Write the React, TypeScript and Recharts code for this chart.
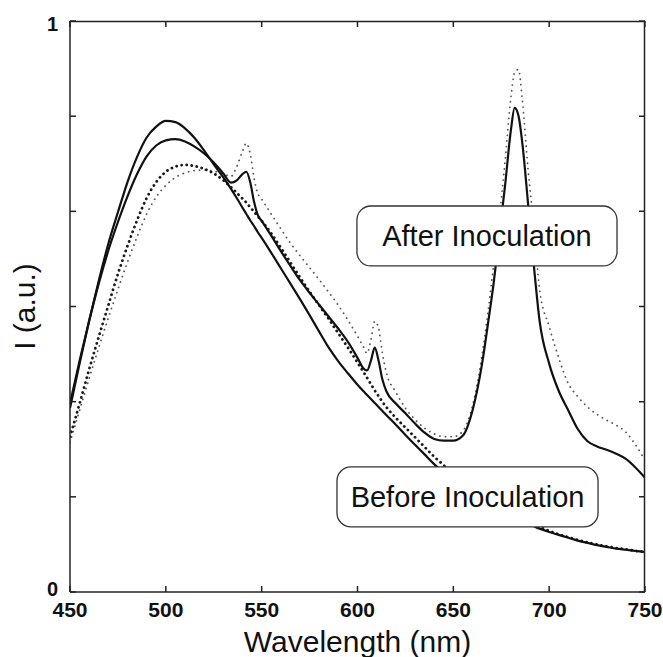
import React from "react";
import {
  LineChart,
  Line,
  XAxis,
  YAxis,
  ReferenceArea,
} from "recharts";

// wavelength grid (nm), finer around the sharp features
const wavelengths = [
  450, 455, 460, 465, 470, 475, 480, 485, 490, 495, 500, 505, 510, 515, 520, 525, 530,
  534, 537, 540, 542, 544, 546, 548,
  550, 555, 560, 565, 570, 575, 580, 585, 590, 595, 600,
  603, 605, 607, 609, 611, 613, 615,
  620, 625, 630, 635, 640, 645, 650, 655, 660, 665,
  668, 671, 674, 677, 680, 682, 684, 686, 689, 692, 695,
  700, 705, 710, 715, 720, 725, 730, 735, 740, 745, 750,
];

const beforeSolid = [
  0.322, 0.4, 0.475, 0.545, 0.61, 0.665, 0.718, 0.762, 0.796, 0.815, 0.825, 0.823, 0.812, 0.795, 0.773, 0.749, 0.726,
  0.706, 0.69, 0.673, 0.662, 0.651, 0.641, 0.63,
  0.62, 0.594, 0.567, 0.54, 0.513, 0.485, 0.456, 0.428, 0.404, 0.383, 0.363,
  0.352, 0.345, 0.338, 0.331, 0.324, 0.317, 0.31,
  0.293, 0.275, 0.258, 0.241, 0.224, 0.209, 0.195, 0.182, 0.17, 0.159,
  0.153, 0.147, 0.142, 0.137, 0.132, 0.129, 0.126, 0.123, 0.119, 0.115, 0.111,
  0.105, 0.1, 0.095, 0.09, 0.086, 0.082, 0.079, 0.076, 0.074, 0.072, 0.07,
];

const beforeDotted = [
  0.272, 0.33, 0.39, 0.447, 0.502, 0.557, 0.606, 0.651, 0.69, 0.718, 0.736, 0.745, 0.748, 0.746, 0.741, 0.733, 0.721,
  0.709, 0.699, 0.689, 0.682, 0.674, 0.666, 0.658,
  0.65, 0.628, 0.603, 0.577, 0.551, 0.526, 0.502, 0.478, 0.453, 0.428, 0.402,
  0.386, 0.375, 0.364, 0.353, 0.343, 0.333, 0.324,
  0.305, 0.288, 0.271, 0.254, 0.237, 0.222, 0.207, 0.194, 0.181, 0.169,
  0.162, 0.156, 0.15, 0.144, 0.139, 0.135, 0.132, 0.129, 0.124, 0.119, 0.114,
  0.107, 0.101, 0.096, 0.091, 0.087, 0.083, 0.08, 0.077, 0.075, 0.072, 0.07,
];

const afterSolid = [
  0.33, 0.405, 0.475, 0.54, 0.598, 0.648, 0.693, 0.732, 0.763, 0.782, 0.791, 0.793, 0.789, 0.78, 0.768, 0.752, 0.733,
  0.717, 0.721, 0.732, 0.736, 0.718, 0.684, 0.66,
  0.65, 0.624, 0.597, 0.571, 0.546, 0.524, 0.503, 0.482, 0.461, 0.438, 0.41,
  0.392, 0.388, 0.405, 0.428, 0.405, 0.372, 0.352,
  0.33, 0.313, 0.295, 0.279, 0.268, 0.265, 0.265, 0.274, 0.318, 0.4,
  0.468, 0.54, 0.625, 0.712, 0.808, 0.848, 0.834, 0.786, 0.68, 0.572, 0.475,
  0.4, 0.352, 0.318, 0.285, 0.264, 0.255, 0.249, 0.242, 0.233, 0.218, 0.2,
];

const afterDotted = [
  0.262, 0.318, 0.374, 0.428, 0.48, 0.53, 0.578, 0.622, 0.662, 0.692, 0.712, 0.726, 0.734, 0.738, 0.739, 0.737, 0.732,
  0.728, 0.745, 0.772, 0.786, 0.768, 0.725, 0.698,
  0.688, 0.662, 0.636, 0.611, 0.589, 0.568, 0.547, 0.525, 0.502, 0.476, 0.448,
  0.43, 0.418, 0.442, 0.474, 0.462, 0.418, 0.385,
  0.35, 0.322, 0.302, 0.287, 0.277, 0.272, 0.272, 0.282, 0.326, 0.415,
  0.488, 0.572, 0.655, 0.755, 0.865, 0.91, 0.915, 0.862, 0.74, 0.64, 0.53,
  0.465, 0.41, 0.365, 0.342, 0.324, 0.311, 0.301, 0.292, 0.28, 0.258, 0.231,
];

const xDomain = [450, 750];
const yDomain = [0, 1];
const xTicks = [450, 500, 550, 600, 650, 700, 750];
const yTicks = [0, 1 / 6, 2 / 6, 3 / 6, 4 / 6, 5 / 6, 1];
const yTickLabels: Record<number, string> = { 0: "0", 1: "1" };

const data = wavelengths.map((w, i) => ({
  w,
  beforeSolid: beforeSolid[i],
  beforeDotted: beforeDotted[i],
  afterSolid: afterSolid[i],
  afterDotted: afterDotted[i],
}));

const W = 663;
const H = 657;
const MARGIN = { top: 21, right: 18, bottom: 0, left: 0 };
const Y_AXIS_W = 70;
const X_AXIS_H = 65;

const FONT = "'Liberation Sans', Arial, Helvetica, sans-serif";
const AXIS = "#222";
const TICK_LEN = 6;

const YTick = (props: any) => {
  const { x, y, payload } = props;
  const txt = yTickLabels[payload.value];
  if (!txt) return <g />;
  // matlab puts the end labels slightly inside the axis range
  const shift = payload.value === 0 ? -3 : 3;
  return (
    <text
      x={x}
      y={y + shift}
      dy="0.355em"
      textAnchor="end"
      fontFamily={FONT}
      fontSize={20}
      fontWeight="bold"
      fill="#111"
    >
      {txt}
    </text>
  );
};

// top + right edges of the matlab box with inward ticks (same plot rect as the chart)
const Frame = () => {
  const x = MARGIN.left + Y_AXIS_W;
  const y = MARGIN.top;
  const right = W - MARGIN.right;
  const bottom = H - MARGIN.bottom - X_AXIS_H;
  const width = right - x;
  const height = bottom - y;
  const px = (v: number) => x + ((v - xDomain[0]) / (xDomain[1] - xDomain[0])) * width;
  const py = (v: number) => bottom - ((v - yDomain[0]) / (yDomain[1] - yDomain[0])) * height;
  let d = `M${x},${y + 0.5}H${right - 0.5}V${bottom}`;
  xTicks.forEach((t) => {
    d += `M${px(t)},${y}v${TICK_LEN}`;
  });
  yTicks.forEach((t) => {
    d += `M${right},${py(t)}h${-TICK_LEN}`;
  });
  return (
    <svg
      width={W}
      height={H}
      style={{ position: "absolute", left: 0, top: 0, pointerEvents: "none" }}
    >
      <path d={d} fill="none" stroke={AXIS} strokeWidth={1.5} />
    </svg>
  );
};

const BoxShape = (props: any) => {
  const { x, y, width, height } = props;
  return (
    <rect
      x={x}
      y={y}
      width={width}
      height={height}
      rx={14}
      ry={14}
      fill="#fff"
      stroke="#333"
      strokeWidth={1.3}
    />
  );
};

export default function App() {
  return (
    <div style={{ position: "absolute", left: 0, top: 0, width: W, height: H, background: "#fff" }}>
      <LineChart width={W} height={H} data={data} margin={MARGIN}>
        <XAxis
          dataKey="w"
          type="number"
          domain={xDomain}
          ticks={xTicks}
          allowDataOverflow
          height={X_AXIS_H}
          tickSize={-TICK_LEN}
          tickMargin={16}
          stroke={AXIS}
          strokeWidth={1.5}
          tick={{ fontSize: 21, fontWeight: "bold", fill: "#111", fontFamily: FONT }}
          label={{
            value: "Wavelength (nm)",
            position: "insideBottom",
            offset: 5,
            fontSize: 30,
            fill: "#111",
            fontFamily: FONT,
          }}
        />
        <YAxis
          type="number"
          domain={yDomain}
          ticks={yTicks}
          width={Y_AXIS_W}
          tickSize={-TICK_LEN}
          tickMargin={18}
          stroke={AXIS}
          strokeWidth={1.5}
          tick={<YTick />}
          label={{
            value: "I (a.u.)",
            angle: -90,
            position: "insideLeft",
            offset: 24,
            fontSize: 30,
            fill: "#111",
            fontFamily: FONT,
            style: { textAnchor: "middle" },
          }}
        />

        <Line
          dataKey="afterDotted"
          type="monotone"
          stroke="#555"
          strokeWidth={1.8}
          strokeDasharray="0.1 5.5"
          strokeLinecap="round"
          dot={false}
          isAnimationActive={false}
        />
        <Line
          dataKey="beforeDotted"
          type="monotone"
          stroke="#1a1a1a"
          strokeWidth={2.8}
          strokeDasharray="0.1 5"
          strokeLinecap="round"
          dot={false}
          isAnimationActive={false}
        />
        <Line
          dataKey="beforeSolid"
          type="monotone"
          stroke="#111"
          strokeWidth={2.2}
          dot={false}
          isAnimationActive={false}
        />
        <Line
          dataKey="afterSolid"
          type="monotone"
          stroke="#111"
          strokeWidth={2.2}
          dot={false}
          isAnimationActive={false}
        />

        <ReferenceArea
          x1={599.7}
          x2={735.4}
          y1={0.571}
          y2={0.676}
          shape={<BoxShape />}
          zIndex={1500}
          label={{
            value: "After Inoculation",
            position: "center",
            fontSize: 29,
            fill: "#111",
            fontFamily: FONT,
          }}
        />
        <ReferenceArea
          x1={589.3}
          x2={725.5}
          y1={0.114}
          y2={0.219}
          shape={<BoxShape />}
          zIndex={1500}
          label={{
            value: "Before Inoculation",
            position: "center",
            fontSize: 29,
            fill: "#111",
            fontFamily: FONT,
          }}
        />
      </LineChart>
      <Frame />
    </div>
  );
}
